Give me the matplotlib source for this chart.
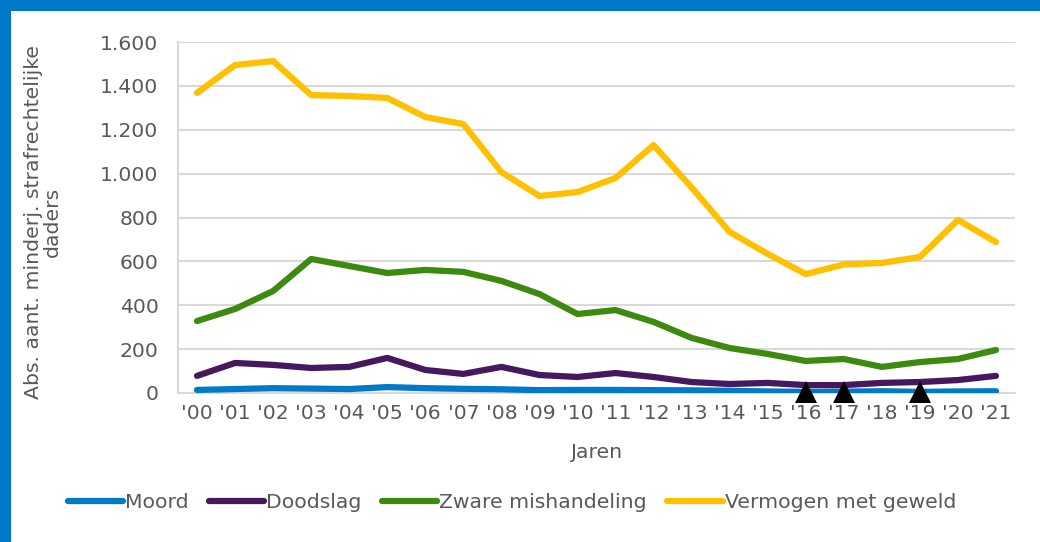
import matplotlib
matplotlib.use("Agg")
import matplotlib.pyplot as plt
from matplotlib.patches import Rectangle

years = ["'00", "'01", "'02", "'03", "'04", "'05", "'06", "'07", "'08", "'09", "'10",
         "'11", "'12", "'13", "'14", "'15", "'16", "'17", "'18", "'19", "'20", "'21"]

moord = [14, 18, 22, 20, 18, 27, 22, 19, 17, 13, 14, 14, 13, 12, 10, 7, 5, 6, 8, 5, 7, 8]
doodslag = [78, 137, 128, 114, 119, 160, 105, 87, 119, 82, 73, 91, 73, 50, 41, 46, 36, 36, 46, 50, 59, 78]
zware = [328, 383, 465, 611, 579, 547, 561, 552, 511, 451, 360, 378, 324, 251, 205, 178, 146, 155, 119, 141, 155, 196]
vermogen = [1368, 1495, 1513, 1358, 1354, 1345, 1258, 1226, 1007, 898, 916, 980, 1130, 937, 734, 634, 542, 586, 593, 620, 789, 688]

marker_years = ["'16", "'17", "'19"]

series_names = ["Moord", "Doodslag", "Zware mishandeling", "Vermogen met geweld"]
colors = ["#0079C8", "#44195E", "#3C8A0E", "#FFC000"]

W, H = 1040, 542
FS = 14.7
fig = plt.figure(figsize=(W / 100, H / 100), dpi=100, facecolor="#0079C8")
fig.patches.append(Rectangle((11 / W, 0), 1, 1 - 11 / H, transform=fig.transFigure,
                             facecolor="white", edgecolor="none", zorder=-10))

ax = fig.add_axes([178 / W, 1 - 393 / H, (1015 - 178) / W, (393 - 42) / H])
ax.set_facecolor("none")
ax.set_zorder(2)

x = list(range(len(years)))
for vals, name, c in zip([moord, doodslag, zware, vermogen], series_names, colors):
    ax.plot(x, vals, color=c, lw=4.5, label=name, solid_capstyle="round", solid_joinstyle="round", zorder=3)

mx = [years.index(y) for y in marker_years]
my = [moord[i] for i in mx]
ax.plot(mx, my, linestyle="none", marker="^", ms=16.5, mew=0, color="black", zorder=5,
        label="_nolegend_", clip_on=False)

ax.set_xlim(-0.5, len(years) - 0.5)
ax.set_ylim(0, 1600)
ax.set_yticks(range(0, 1601, 200))
ax.set_yticklabels([f"{v:,}".replace(",", ".") for v in range(0, 1601, 200)])
ax.set_xticks(x)
ax.set_xticklabels(years)
ax.grid(axis="y", color="#D9D9D9", lw=1.5, zorder=0)
ax.set_axisbelow(True)
for s in ["top", "right"]:
    ax.spines[s].set_visible(False)
for s in ["left", "bottom"]:
    ax.spines[s].set_color("#D9D9D9")
    ax.spines[s].set_linewidth(1.5)
ax.tick_params(axis="both", length=0, labelsize=FS, colors="#595959")
ax.tick_params(axis="y", pad=14)
ax.tick_params(axis="x", pad=8)

fig.text(596 / W, 1 - 452 / H, "Jaren", ha="center", va="center", fontsize=FS, color="#595959", zorder=3)
fig.text(43 / W, 1 - 222 / H, "Abs. aant. minderj. strafrechtelijke\ndaders", rotation=90,
         ha="center", va="center", multialignment="center", fontsize=FS, color="#595959",
         linespacing=1.0, zorder=3)

leg = fig.legend(loc="center", bbox_to_anchor=(512 / W, 1 - 503 / H), ncol=4, frameon=False,
                 fontsize=FS, handlelength=2.7, handletextpad=0.1, columnspacing=1.0)
leg.set_zorder(4)
for t in leg.get_texts():
    t.set_color("#595959")

fig.savefig("out.png", dpi=100, facecolor=fig.get_facecolor())
